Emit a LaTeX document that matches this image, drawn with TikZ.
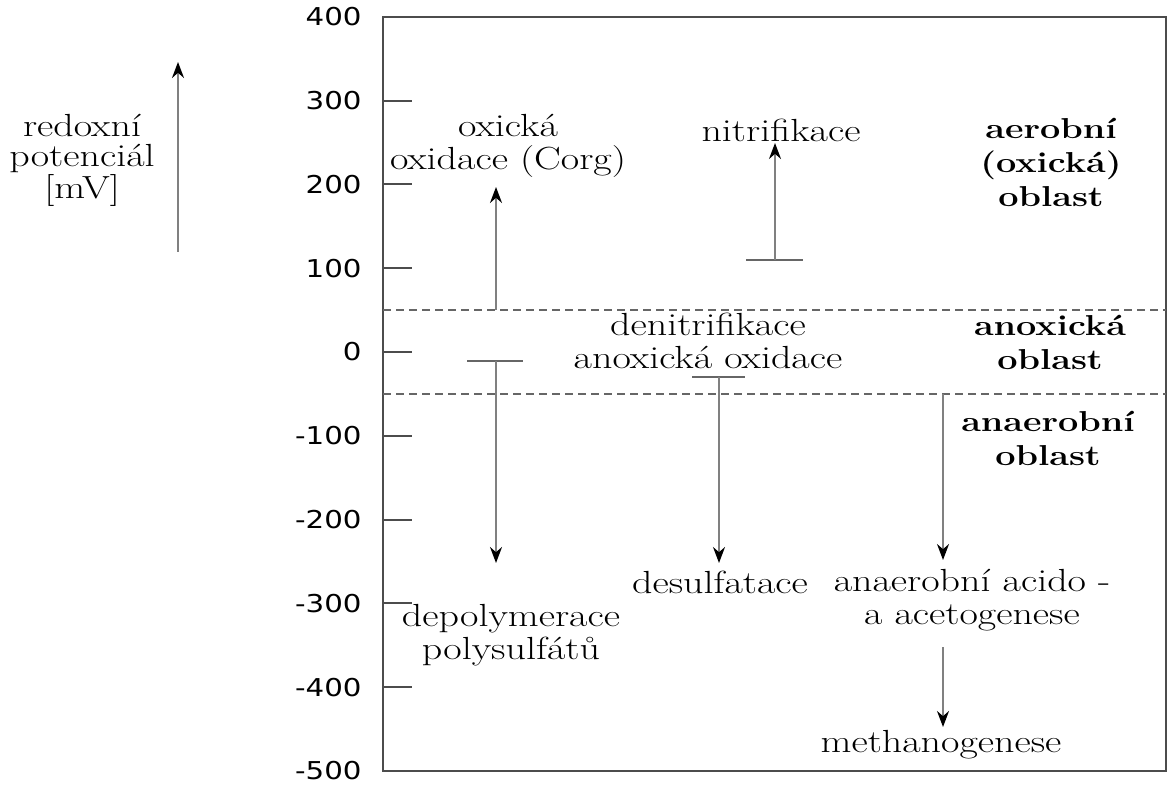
\documentclass[tikz,border=0pt]{standalone}
\usepackage{fontspec}
\setmainfont{Latin Modern Roman}[FakeStretch=1.25]
\newfontfamily\tickfont{DejaVu Sans}[FakeStretch=1.19]
\usetikzlibrary{arrows.meta}

\tikzset{
  frame/.style={draw=black!70, line width=1pt},
  zone/.style={draw=black!60, line width=0.8pt, dash pattern=on 4pt off 2.5pt},
  flow/.style={draw=black!50, line width=1pt, -{Stealth[length=8pt,width=6pt,black]}},
  bar/.style={draw=black!60, line width=0.8pt},
  txt/.style={align=center, inner sep=0pt, font=\fontsize{16}{16.25}\selectfont},
  zonelbl/.style={align=center, inner sep=0pt, font=\fontsize{14.4}{17}\selectfont\bfseries},
  ticklbl/.style={anchor=east, inner sep=0pt, font=\tickfont\fontsize{12.3}{14}\selectfont},
}

\begin{document}
\begin{tikzpicture}[x=0.5pt, y=-0.5pt]
    \useasboundingbox (0,0) rectangle (1171,785);
    \fill[white] (0,0) rectangle (1171,785);

    % axis
    \node[txt, font=\fontsize{16}{15}\selectfont] (potlbl) at (82,160) {redoxní\\potenciál\\{}[mV]};
    \coordinate (potlo) at (178,252);
    \coordinate (pothi) at (178,62);
    \draw[flow] (potlo) -- (pothi);

    \draw[frame] (383,17) rectangle (1166,771);
    \foreach \v in {400,300,...,-500}
      \node[ticklbl] (t\v) at (362,{352-0.838*\v}) {\v};
    \foreach \v in {300,200,...,-400}
      \draw[frame] (383,{352-0.838*\v}) -- ++(29,0);

    \draw[zone] (383,310) -- (1166,310);
    \draw[zone] (383,394) -- (1166,394);

    % zones
    \node[zonelbl] (aer) at (1051,162) {aerobní\\(oxická)\\oblast};
    \node[zonelbl] (anox) at (1050,342) {anoxická\\oblast};
    \node[zonelbl] (anaer) at (1048,438) {anaerobní\\oblast};

    % processes
    \node[txt] (oxox) at (508,146) {oxická\\oxidace (Corg)};
    \node[txt] (nitr) at (781,130) {nitrifikace};
    \node[txt] (denitr) at (708,341) {denitrifikace\\anoxická oxidace};
    \node[txt] (depol) at (511,635) {depolymerace\\polysulfátů};
    \node[txt] (desulf) at (720,582) {desulfatace};
    \node[txt] (acido) at (972,600) {anaerobní acido -\\a acetogenese};
    \node[txt] (meth) at (941,745) {methanogenese};

    \coordinate (ox0) at (496,310);
    \coordinate (ox1) at (496,187);
    \draw[flow] (ox0) -- (ox1);

    \draw[bar] (746,260) -- (803,260);
    \coordinate (ni0) at (775,260);
    \coordinate (ni1) at (775,143);
    \draw[flow] (ni0) -- (ni1);

    \draw[bar] (467,361) -- (523,361);
    \coordinate (dp0) at (496,361);
    \coordinate (dp1) at (496,563);
    \draw[flow] (dp0) -- (dp1);

    \draw[bar] (692,377) -- (745,377);
    \coordinate (ds0) at (719,377);
    \coordinate (ds1) at (719,563);
    \draw[flow] (ds0) -- (ds1);

    \coordinate (ac0) at (943,394);
    \coordinate (ac1) at (943,560);
    \draw[flow] (ac0) -- (ac1);

    \coordinate (me0) at (943,647);
    \coordinate (me1) at (943,727);
    \draw[flow] (me0) -- (me1);
\end{tikzpicture}
\end{document}
